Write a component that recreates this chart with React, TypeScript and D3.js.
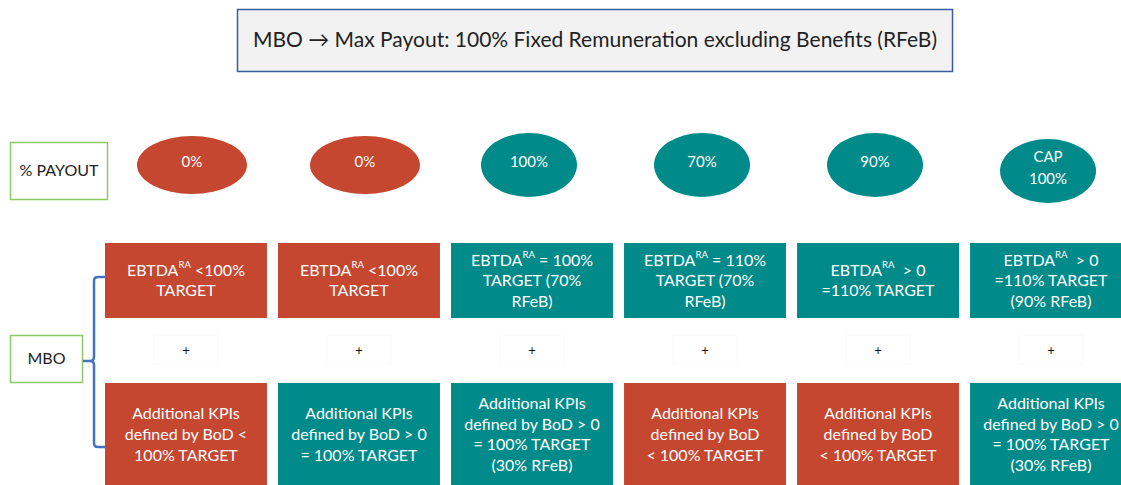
import { useEffect, useRef } from 'react';
import * as d3 from 'd3';

const title = 'MBO \u2192 Max Payout: 100% Fixed Remuneration excluding Benefits (RFeB)';
const columns = ['c1', 'c2', 'c3', 'c4', 'c5', 'c6'];
const payoutLabels = [['0%'], ['0%'], ['100%'], ['70%'], ['90%'], ['CAP', '100%']];
const payoutMet = [false, false, true, true, true, true];
const ebitdaLines = [
  ['EBTDA^RA <100%', 'TARGET'],
  ['EBTDA^RA <100%', 'TARGET'],
  ['EBTDA^RA = 100%', 'TARGET (70%', 'RFeB)'],
  ['EBTDA^RA = 110%', 'TARGET (70%', 'RFeB)'],
  ['EBTDA^RA  > 0', '=110% TARGET'],
  ['EBTDA^RA  > 0', '=110% TARGET', '(90% RFeB)'],
];
const ebitdaMet = [false, false, true, true, true, true];
const kpiLines = [
  ['Additional KPIs', 'defined by BoD <', '100% TARGET'],
  ['Additional KPIs', 'defined by BoD > 0', '= 100% TARGET'],
  ['Additional KPIs', 'defined by BoD > 0', '= 100% TARGET', '(30% RFeB)'],
  ['Additional KPIs', 'defined by BoD', '< 100% TARGET'],
  ['Additional KPIs', 'defined by BoD', '< 100% TARGET'],
  ['Additional KPIs', 'defined by BoD > 0', '= 100% TARGET', '(30% RFeB)'],
];
const kpiMet = [false, true, true, false, false, true];

const RED = '#c5472f';
const TEAL = '#008a89';
const FONT = 'Lato, "Open Sans", sans-serif';

function writeLines(sel: any, lines: string[], cx: number, cy: number, lh: number, size: number, color: string) {
  lines.forEach((line, i) => {
    const t = sel
      .append('text')
      .attr('x', cx)
      .attr('y', cy + (i - (lines.length - 1) / 2) * lh)
      .attr('text-anchor', 'middle')
      .attr('dominant-baseline', 'middle')
      .attr('font-family', FONT)
      .attr('font-size', size)
      .attr('fill', color);
    const parts = line.split('^RA');
    if (parts.length === 1) {
      t.text(line);
    } else {
      t.append('tspan').text(parts[0]);
      t.append('tspan').attr('font-size', size * 0.6).attr('dy', -6).text('RA');
      t.append('tspan').attr('dy', 6).attr('xml:space', 'preserve').text(parts[1]);
    }
  });
}

function Diagram({ width, height }: { width: number; height: number }) {
  const svgRef = useRef<SVGSVGElement>(null);

  useEffect(() => {
    if (svgRef.current === null) return;
    const svg = d3.select(svgRef.current).attr('width', width).attr('height', height);
    svg.selectAll('*').remove();

    const x = d3.scaleBand().domain(columns).range([105, 1132]).paddingInner(0.064).paddingOuter(0);
    const cx = (c: string) => (x(c) || 0) + x.bandwidth() / 2;

    // title
    svg.append('rect').attr('x', 237.5).attr('y', 9.5).attr('width', 715).attr('height', 62)
      .attr('fill', '#f2f2f2').attr('stroke', '#3a5da0').attr('stroke-width', 1.5);
    svg.append('text').attr('x', 595).attr('y', 42).attr('text-anchor', 'middle')
      .attr('dominant-baseline', 'middle').attr('font-family', FONT).attr('font-size', 21)
      .attr('fill', '#222').text(title);

    // row labels
    const label = (x0: number, y0: number, w: number, h: number, txt: string) => {
      svg.append('rect').attr('x', x0).attr('y', y0).attr('width', w).attr('height', h)
        .attr('fill', '#fff').attr('stroke', '#8cc866').attr('stroke-width', 1.5);
      writeLines(svg, [txt], x0 + w / 2, y0 + h / 2 + 1, 20, 16, '#222');
    };
    label(10.5, 142.5, 97, 57, '% PAYOUT');
    label(10.5, 335.5, 72, 47, 'MBO');

    // bracket
    const bx = 94;
    const left = (x(columns[0]) || 0);
    svg.append('path')
      .attr('d', `M${left},277 H${bx + 4} Q${bx},277 ${bx},281 V357 Q${bx},361 ${bx - 4},361 H83 M${bx - 4},361 Q${bx},361 ${bx},365 V443 Q${bx},447 ${bx + 4},447 H${left}`)
      .attr('fill', 'none').attr('stroke', '#4472c4').attr('stroke-width', 2.5);

    // payout ellipses
    columns.forEach((c, i) => {
      const met = payoutMet[i];
      const cy = payoutLabels[i].length > 1 ? 171 : 165;
      svg.append('ellipse').attr('cx', cx(c) + (met ? -3 : 6)).attr('cy', cy)
        .attr('rx', met ? 48 : 55).attr('ry', met ? 32 : 29)
        .attr('fill', met ? TEAL : RED);
      writeLines(svg, payoutLabels[i], cx(c) + (met ? -3 : 6), cy - 2, 22, 15, '#fff');
    });

    // EBITDA row
    columns.forEach((c, i) => {
      svg.append('rect').attr('x', x(c) || 0).attr('y', 243).attr('width', x.bandwidth()).attr('height', 75)
        .attr('fill', ebitdaMet[i] ? TEAL : RED);
      writeLines(svg, ebitdaLines[i], cx(c), 282, 20.5, 16, '#fff');
    });

    // plus signs
    columns.forEach((c) => {
      svg.append('rect').attr('x', cx(c) - 32).attr('y', 335).attr('width', 64).attr('height', 29)
        .attr('fill', '#fff').attr('stroke', '#fafafa');
      svg.append('text').attr('x', cx(c)).attr('y', 352).attr('text-anchor', 'middle')
        .attr('dominant-baseline', 'middle').attr('font-family', FONT).attr('font-size', 13)
        .attr('fill', '#111').text('+');
    });

    // KPI row
    columns.forEach((c, i) => {
      svg.append('rect').attr('x', x(c) || 0).attr('y', 383).attr('width', x.bandwidth()).attr('height', 106)
        .attr('fill', kpiMet[i] ? TEAL : RED);
      writeLines(svg, kpiLines[i], cx(c), 436, 20.8, 16, '#fff');
    });
  }, [width, height]);

  return <svg ref={svgRef} style={{ position: 'absolute', left: 0, top: 0, background: '#fff' }} />;
}

export default function App() {
  return <Diagram width={1121} height={485} />;
}
